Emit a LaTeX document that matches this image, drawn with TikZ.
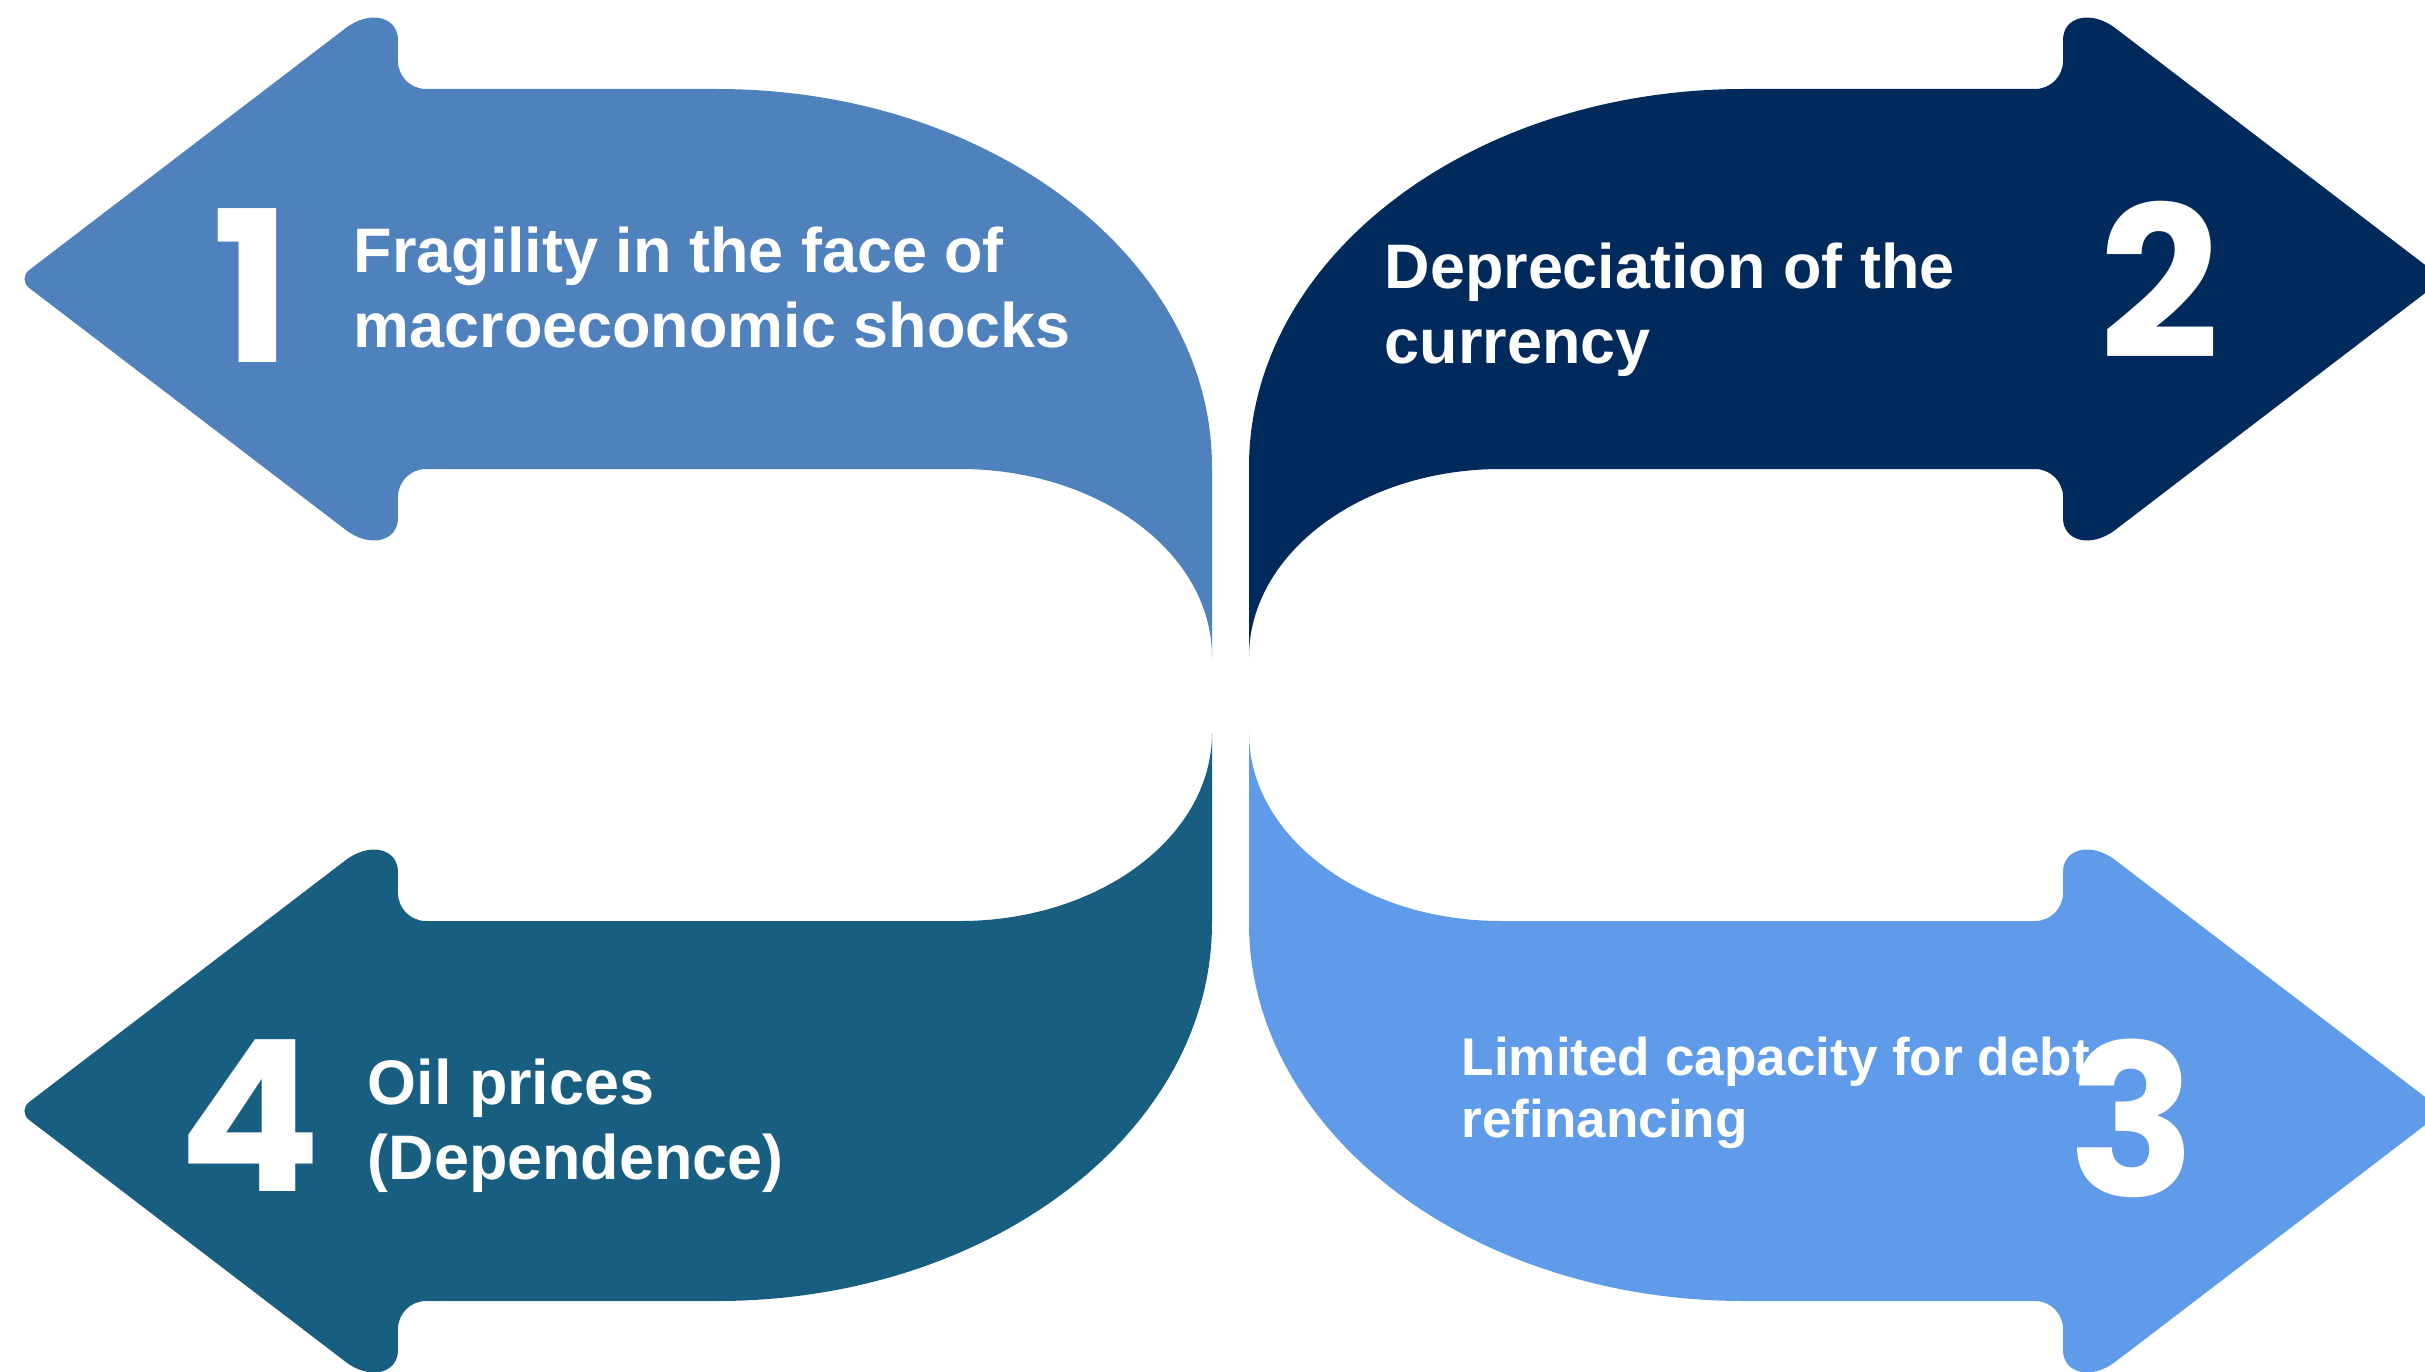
\documentclass[tikz,border=0pt]{standalone}
\usepackage{fontspec}
\setmainfont{Liberation Sans}
\newfontfamily\numfont{Poppins}

\definecolor{pone}{HTML}{4F81BD}
\definecolor{ptwo}{HTML}{00295C}
\definecolor{pthree}{HTML}{5F9BE8}
\definecolor{pfour}{HTML}{175E80}

% one bent arrow, drawn pointing left and up; the others are mirrored
\newcommand{\bentarrow}[1]{%
\fill[#1] (-0.185,0.38) -- (-0.185,2.28)
  arc[start angle=0,end angle=90,x radius=4.95,y radius=3.78]
  [rounded corners=0.28cm] -- (-8.325,6.06)
  [sharp corners] -- (-8.325,6.55)
  .. controls (-8.325,6.78) and (-8.6,6.858) .. (-8.85,6.667)
  [rounded corners=0.15cm] -- (-12.13,4.16)
  [sharp corners] -- (-8.85,1.653)
  .. controls (-8.6,1.462) and (-8.325,1.54) .. (-8.325,1.77)
  [rounded corners=0.28cm] -- (-8.325,2.26)
  [sharp corners] -- (-2.705,2.26)
  arc[start angle=90,end angle=0,x radius=2.52,y radius=1.88] -- cycle;}

\begin{document}
\begin{tikzpicture}[
  txt/.style={text=white,font=\bfseries\fontsize{17.9}{21.3}\selectfont,align=left,anchor=north west,inner sep=0pt},
  num/.style={text=white,font=\numfont\bfseries\fontsize{60}{60}\selectfont,inner sep=0pt}]

\useasboundingbox (-12.305,-6.76) rectangle (11.945,6.95);
\clip (-12.305,-6.76) rectangle (11.945,6.95);

%p1
\bentarrow{pone}
\node[num] (n1) at (-9.785,4.09) {1};
\node[txt] (t1) at (-8.775,4.69) {Fragility in the face of\\macroeconomic shocks};

%p2
\bentarrow{ptwo,xscale=-1}
\node[num] (n2) at (9.295,4.15) {2};
\node[txt] (t2) at (1.535,4.53) {Depreciation of the\\currency};

%p3
\bentarrow{pthree,xscale=-1,yscale=-1}
\node[txt,font=\bfseries\fontsize{15.1}{17.6}\selectfont] (t3) at (2.305,-3.41) {Limited capacity for debt\\refinancing};
\node[num] (n3) at (9.015,-4.23) {3};

%p4
\bentarrow{pfour,yscale=-1}
\node[num] (n4) at (-9.805,-4.21) {4};
\node[txt] (t4) at (-8.635,-3.63) {Oil prices\\(Dependence)};

\end{tikzpicture}
\end{document}
